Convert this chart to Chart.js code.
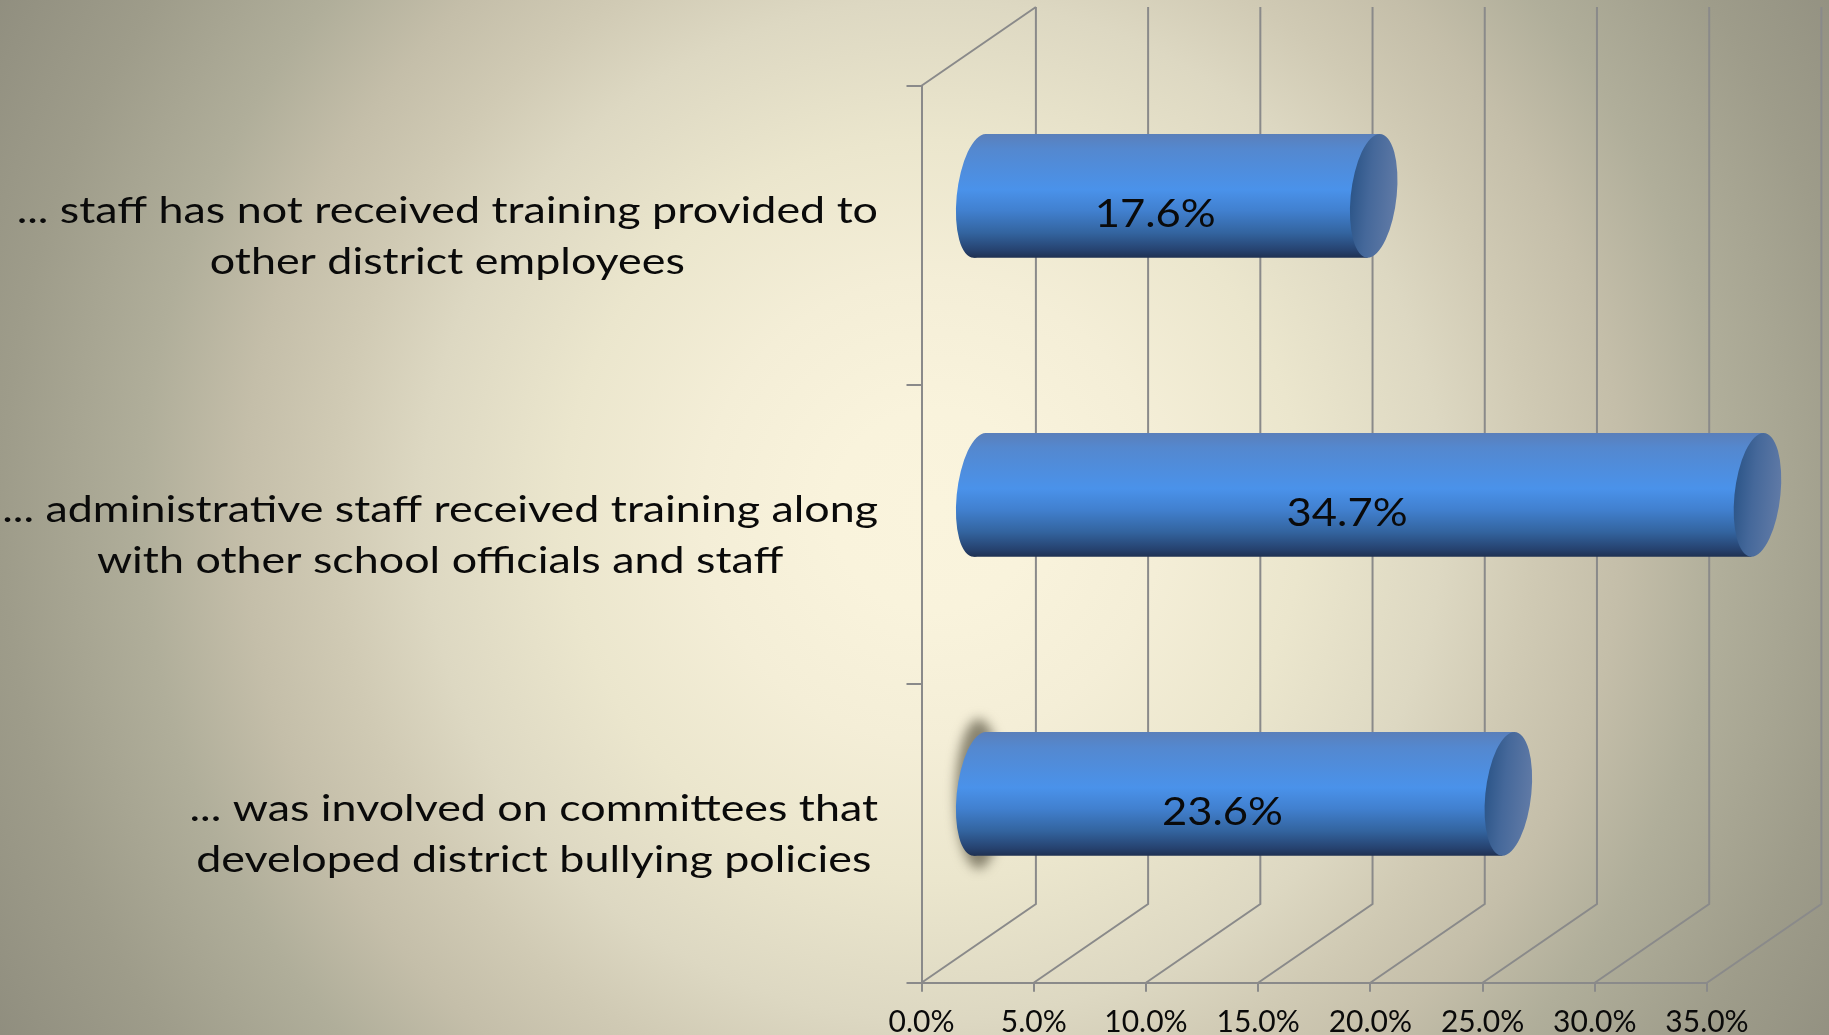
<!DOCTYPE html>
<html><head><meta charset="utf-8">
<style>html,body{margin:0;padding:0;background:#eee}canvas{display:block}</style>
<script src="https://cdn.jsdelivr.net/npm/chart.js@4"></script>
</head><body>
<canvas id="c" width="1829" height="1035"></canvas>
<script>
const categories = [
  ["... staff has not received training provided to", "other district employees"],
  ["... administrative staff received training along", "with other school officials and staff"],
  ["... was involved on committees that", "developed district bullying policies"]
];
const values = [17.6, 34.7, 23.6];
const xTicks = [0, 5, 10, 15, 20, 25, 30, 35];

const DEPTH_X = 114.4, DEPTH_Y = -78.7;
const BAR_FRAC = 0.414, CAP_RX = 23, SHEAR = -0.098;
const LINE = '#8a8a8a';
const stretch = {cat: 1.245, val: 1.146};

// cylinder look around the library's own bar element
const nativeDraw = Chart.BarElement.prototype.draw;
Chart.BarElement.prototype.draw = function (ctx) {
  const {x, y, base, height} = this.getProps(['x', 'y', 'base', 'height'], true);
  const fill = this.options.backgroundColor;
  ctx.save();
  ctx.translate(DEPTH_X / 2, DEPTH_Y / 2);
  ctx.translate(0, y); ctx.transform(1, 0, SHEAR, 1, 0, 0); ctx.translate(0, -y);
  ctx.fillStyle = fill;
  ctx.beginPath(); ctx.ellipse(base, y, CAP_RX, height / 2, 0, 0, Math.PI * 2); ctx.fill();
  nativeDraw.call(this, ctx);
  const g = ctx.createLinearGradient(x - CAP_RX, 0, x + CAP_RX, 0);
  g.addColorStop(0, '#2d5689'); g.addColorStop(0.4, '#45689a'); g.addColorStop(1, '#607aa6');
  ctx.fillStyle = g;
  ctx.beginPath(); ctx.ellipse(x, y, CAP_RX, height / 2, 0, 0, Math.PI * 2); ctx.fill();
  ctx.restore();
};

const bgPlugin = {
  id: 'bg',
  beforeDraw(chart) {
    const {ctx, width, height} = chart;
    const g = ctx.createRadialGradient(933, 510, 0, 933, 510, 1080);
    [[0, '#faf4dd'], [100, '#f9f3dc'], [230, '#f4eed7'], [370, '#ebe6cd'], [510, '#ddd8c2'],
     [600, '#d0cab4'], [690, '#c4bea9'], [790, '#b0ae9a'], [930, '#9e9c8a'], [1080, '#8f8d7e']]
      .forEach(([d, c]) => g.addColorStop(d / 1080, c));
    ctx.fillStyle = g;
    ctx.fillRect(0, 0, width, height);
  }
};

const wallPlugin = {
  id: 'walls',
  beforeDatasetsDraw(chart) {
    const {ctx, chartArea: a, scales: {x: sx}} = chart;
    ctx.save();
    ctx.strokeStyle = LINE; ctx.lineWidth = 2;
    ctx.beginPath();
    xTicks.forEach(t => {
      const px = sx.getPixelForValue(t);
      ctx.moveTo(px, a.bottom);
      ctx.lineTo(px + DEPTH_X, a.bottom + DEPTH_Y);
      ctx.lineTo(px + DEPTH_X, a.top + DEPTH_Y);
    });
    ctx.moveTo(a.left, a.top);
    ctx.lineTo(a.left + DEPTH_X, a.top + DEPTH_Y);
    ctx.stroke();
    // soft halo behind the lowest bar's left end
    const el = chart.getDatasetMeta(0).data[2];
    ctx.fillStyle = 'rgba(110,105,85,0.8)';
    ctx.filter = 'blur(6px)';
    ctx.beginPath();
    ctx.ellipse(el.base + DEPTH_X / 2 - 1, el.y + DEPTH_Y / 2, CAP_RX, el.height / 2 + 13, 0, 0, Math.PI * 2);
    ctx.fill();
    ctx.restore();
  }
};

const textPlugin = {
  id: 'texts',
  afterDatasetsDraw(chart) {
    const {ctx, scales: {y: sy}} = chart;
    const meta = chart.getDatasetMeta(0);
    ctx.save();
    ctx.fillStyle = '#0a0a0a';
    ctx.textAlign = 'center'; ctx.textBaseline = 'middle';
    // category labels: block right-aligned, lines centred
    ctx.font = '36px Lato';
    categories.forEach((lines, i) => {
      const yc = sy.getPixelForValue(i);
      const w = Math.max(...lines.map(l => ctx.measureText(l).width)) * stretch.cat;
      const cx = 878 - w / 2;
      lines.forEach((l, k) => {
        ctx.save();
        ctx.translate(cx, yc - 25.5 + k * 51 + 2);
        ctx.scale(stretch.cat, 1);
        ctx.fillText(l, 0, 0);
        ctx.restore();
      });
    });
    // value labels
    ctx.font = '38px Lato';
    meta.data.forEach((el, i) => {
      const cx = (el.base + el.x) / 2 + DEPTH_X / 2 - 21.5;
      const cy = el.y + DEPTH_Y / 2 + 18.5;
      ctx.save();
      ctx.translate(cx, cy);
      ctx.scale(stretch.val, 1);
      ctx.fillText(values[i].toFixed(1) + '%', 0, 0);
      ctx.restore();
    });
    ctx.restore();
  }
};

new Chart(document.getElementById('c'), {
  type: 'bar',
  data: {
    labels: categories,
    datasets: [{
      data: values,
      clip: false,
      barPercentage: BAR_FRAC,
      categoryPercentage: 1,
      borderWidth: 0,
      backgroundColor(c) {
        const chart = c.chart;
        if (!chart.chartArea || c.dataIndex === undefined) return '#4a90e8';
        const s = chart.scales.y;
        const yc = s.getPixelForValue(c.dataIndex);
        const h = (chart.chartArea.height / categories.length) * BAR_FRAC / 2;
        const g = chart.ctx.createLinearGradient(0, yc - h, 0, yc + h);
        g.addColorStop(0, '#5a7fba');
        g.addColorStop(0.12, '#5488cf');
        g.addColorStop(0.45, '#4a92ea');
        g.addColorStop(0.62, '#4180cf');
        g.addColorStop(0.8, '#33649f');
        g.addColorStop(0.94, '#26426f');
        g.addColorStop(1, '#1f3152');
        return g;
      }
    }]
  },
  options: {
    indexAxis: 'y',
    responsive: false,
    animation: false,
    events: [],
    layout: {padding: {left: 0, right: 122, top: 85.7, bottom: 0}},
    plugins: {legend: {display: false}, tooltip: {enabled: false}, title: {display: false}},
    scales: {
      x: {
        type: 'linear', min: 0, max: 35,
        afterFit(s) { s.height = 1035 - 982.7; },
        afterBuildTicks(s) { s.ticks = xTicks.map(v => ({value: v})); },
        grid: {drawOnChartArea: false, drawTicks: true, tickLength: 9, color: LINE, lineWidth: 2},
        border: {display: true, color: LINE, width: 2},
        ticks: {
          maxRotation: 0, autoSkip: false, padding: 13,
          color: '#0a0a0a', font: {family: 'Lato', size: 30},
          callback: v => v.toFixed(1) + '%'
        }
      },
      y: {
        type: 'category',
        afterFit(s) { s.width = 921.5; },
        grid: {drawOnChartArea: false, drawTicks: true, tickLength: 15, color: LINE, lineWidth: 2},
        border: {display: true, color: LINE, width: 2},
        ticks: {display: false}
      }
    }
  },
  plugins: [bgPlugin, wallPlugin, textPlugin]
});
</script>
</body></html>
